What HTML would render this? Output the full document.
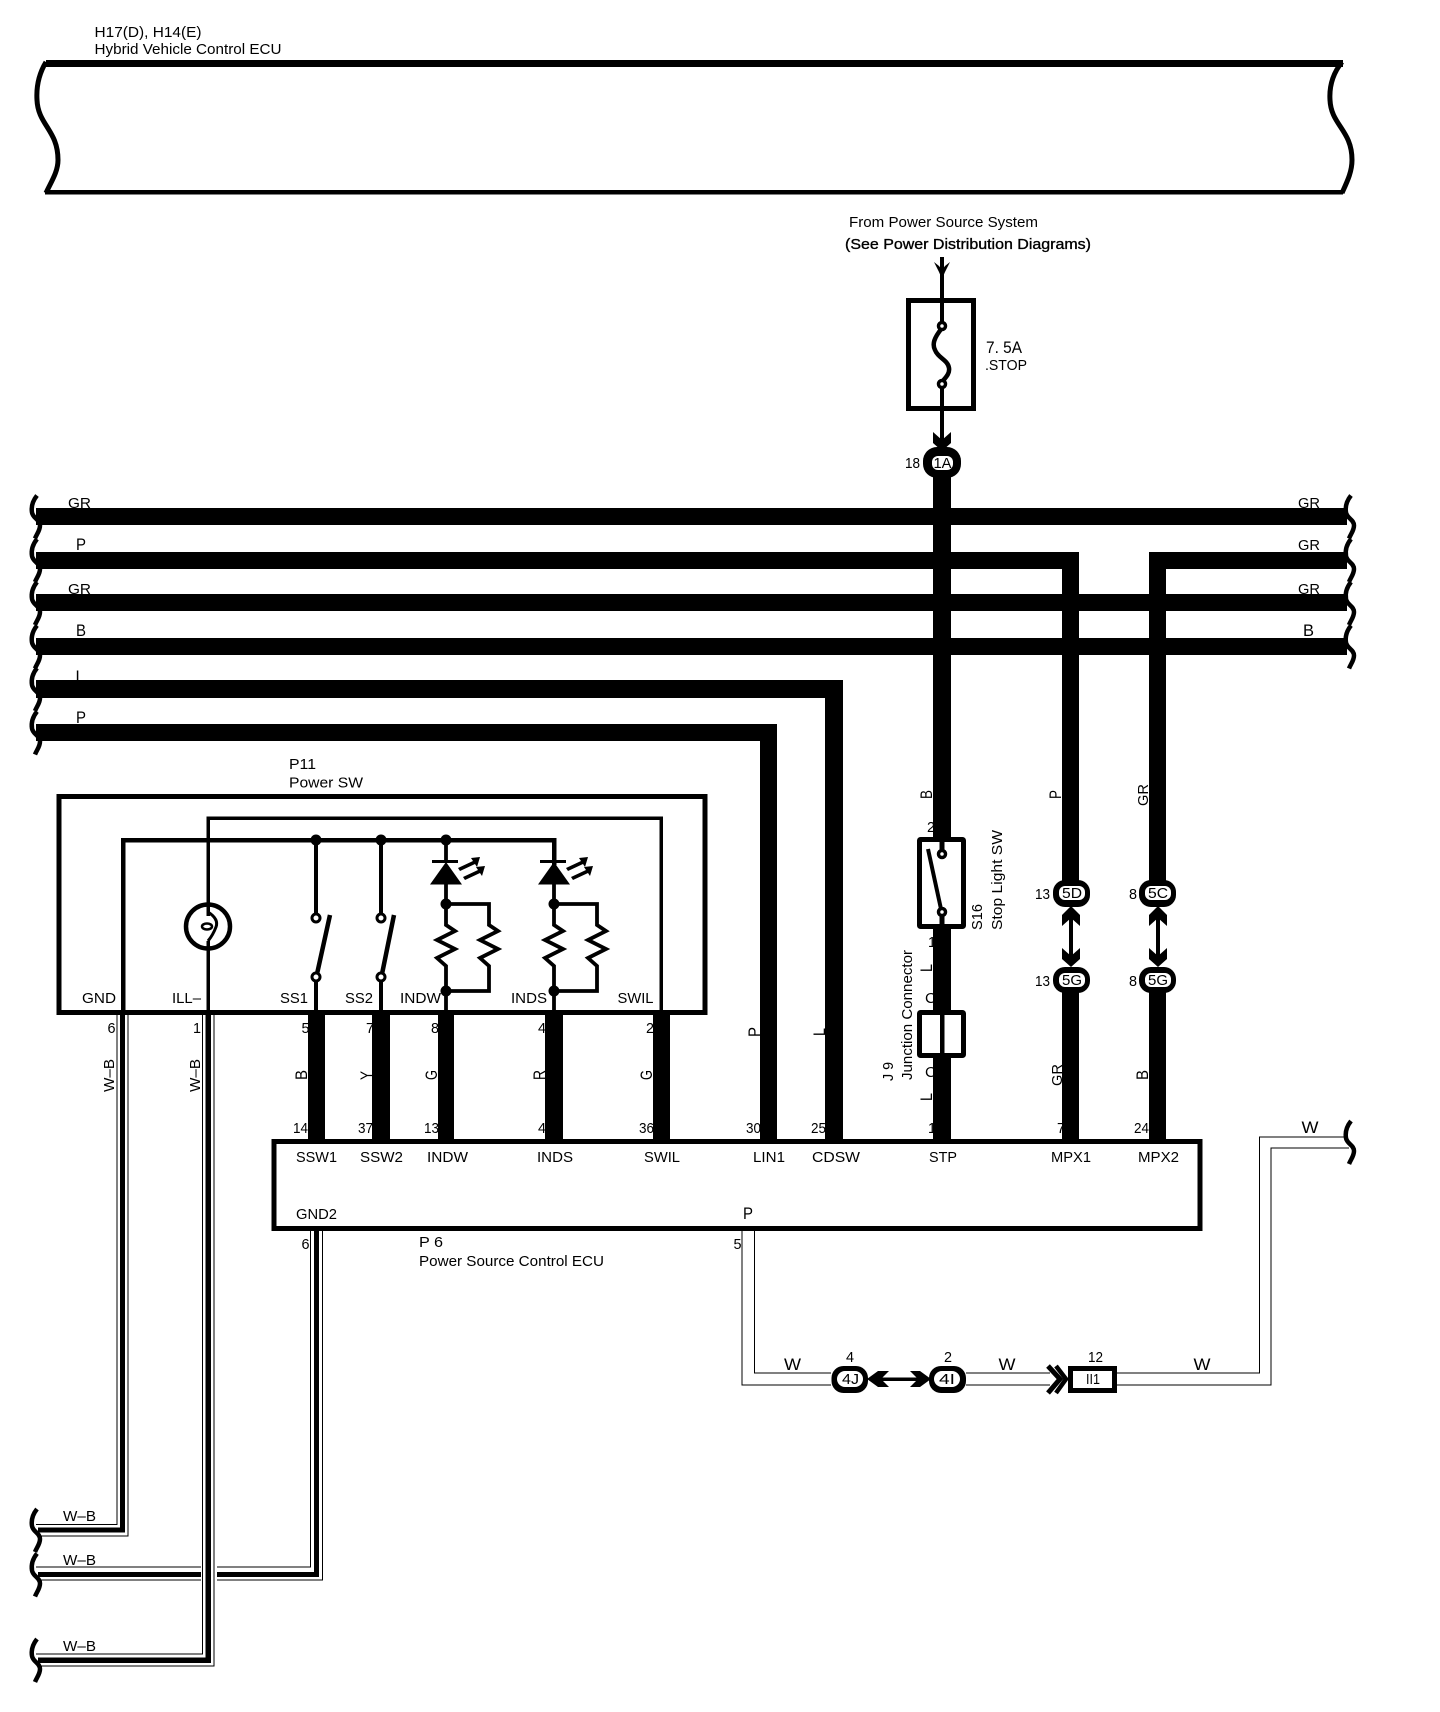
<!DOCTYPE html>
<html><head><meta charset="utf-8"><style>
html,body{margin:0;padding:0;background:#fff}
svg{display:block}
text{font-family:"Liberation Sans",sans-serif;font-size:15px;fill:#000}
text.b{font-size:17px}
.w{fill:none;stroke:#000;shape-rendering:crispEdges;stroke-linejoin:miter}
.t{stroke:#000;stroke-width:1.3;fill:none;shape-rendering:crispEdges}
.k{fill:#000}
</style></head><body>
<svg xmlns="http://www.w3.org/2000/svg" width="1440" height="1712" viewBox="0 0 1440 1712">
<rect width="1440" height="1712" fill="#fff"/>

<!-- labels under wires -->
<text x="94.5" y="37" textLength="107" lengthAdjust="spacingAndGlyphs">H17(D), H14(E)</text>
<text x="94.5" y="54" textLength="187" lengthAdjust="spacingAndGlyphs">Hybrid Vehicle Control ECU</text>
<text x="849" y="227" textLength="189" lengthAdjust="spacingAndGlyphs">From Power Source System</text>
<text x="845" y="249" textLength="246" lengthAdjust="spacingAndGlyphs" style="stroke:#000;stroke-width:.35">(See Power Distribution Diagrams)</text>
<text class="b" x="986" y="353" textLength="36" lengthAdjust="spacingAndGlyphs">7. 5A</text>
<text x="985" y="370" textLength="42" lengthAdjust="spacingAndGlyphs">.STOP</text>
<text x="905" y="468" textLength="15" lengthAdjust="spacingAndGlyphs">18</text>

<text x="68" y="508" textLength="23" lengthAdjust="spacingAndGlyphs">GR</text>
<text class="b" x="76" y="550" textLength="10" lengthAdjust="spacingAndGlyphs">P</text>
<text x="68" y="594" textLength="23" lengthAdjust="spacingAndGlyphs">GR</text>
<text class="b" x="76" y="636" textLength="10" lengthAdjust="spacingAndGlyphs">B</text>
<text class="b" x="75.5" y="682" textLength="9" lengthAdjust="spacingAndGlyphs">L</text>
<text class="b" x="76" y="723" textLength="10" lengthAdjust="spacingAndGlyphs">P</text>
<text x="1298" y="508" textLength="22" lengthAdjust="spacingAndGlyphs">GR</text>
<text x="1298" y="550" textLength="22" lengthAdjust="spacingAndGlyphs">GR</text>
<text x="1298" y="594" textLength="22" lengthAdjust="spacingAndGlyphs">GR</text>
<text class="b" x="1303" y="636" textLength="11" lengthAdjust="spacingAndGlyphs">B</text>

<text x="289" y="769" textLength="27" lengthAdjust="spacingAndGlyphs">P11</text>
<text x="289" y="787.5" textLength="74" lengthAdjust="spacingAndGlyphs">Power SW</text>

<text x="82" y="1003" textLength="34" lengthAdjust="spacingAndGlyphs">GND</text>
<text x="172" y="1003" textLength="29" lengthAdjust="spacingAndGlyphs">ILL–</text>
<text x="280" y="1003" textLength="28" lengthAdjust="spacingAndGlyphs">SS1</text>
<text x="345" y="1003" textLength="28" lengthAdjust="spacingAndGlyphs">SS2</text>
<text x="400" y="1003" textLength="41" lengthAdjust="spacingAndGlyphs">INDW</text>
<text x="511" y="1003" textLength="36" lengthAdjust="spacingAndGlyphs">INDS</text>
<text x="617.5" y="1003" textLength="36" lengthAdjust="spacingAndGlyphs">SWIL</text>

<text x="107.5" y="1033" textLength="8" lengthAdjust="spacingAndGlyphs">6</text>
<text x="193" y="1033" textLength="8" lengthAdjust="spacingAndGlyphs">1</text>
<text x="301.5" y="1033" textLength="8" lengthAdjust="spacingAndGlyphs">5</text>
<text x="366" y="1033" textLength="8" lengthAdjust="spacingAndGlyphs">7</text>
<text x="431" y="1033" textLength="8" lengthAdjust="spacingAndGlyphs">8</text>
<text x="538" y="1033" textLength="8" lengthAdjust="spacingAndGlyphs">4</text>
<text x="646" y="1033" textLength="8" lengthAdjust="spacingAndGlyphs">2</text>

<text x="293" y="1133" textLength="15" lengthAdjust="spacingAndGlyphs">14</text>
<text x="358" y="1133" textLength="15" lengthAdjust="spacingAndGlyphs">37</text>
<text x="424" y="1133" textLength="15" lengthAdjust="spacingAndGlyphs">13</text>
<text x="538" y="1133" textLength="8" lengthAdjust="spacingAndGlyphs">4</text>
<text x="639" y="1133" textLength="15" lengthAdjust="spacingAndGlyphs">36</text>
<text x="746" y="1133" textLength="15" lengthAdjust="spacingAndGlyphs">30</text>
<text x="811" y="1133" textLength="15" lengthAdjust="spacingAndGlyphs">25</text>
<text x="928" y="1133" textLength="8" lengthAdjust="spacingAndGlyphs">1</text>
<text x="1057" y="1133" textLength="8" lengthAdjust="spacingAndGlyphs">7</text>
<text x="1134" y="1133" textLength="15" lengthAdjust="spacingAndGlyphs">24</text>

<text x="296" y="1162" textLength="41" lengthAdjust="spacingAndGlyphs">SSW1</text>
<text x="360" y="1162" textLength="43" lengthAdjust="spacingAndGlyphs">SSW2</text>
<text x="427" y="1162" textLength="41" lengthAdjust="spacingAndGlyphs">INDW</text>
<text x="537" y="1162" textLength="36" lengthAdjust="spacingAndGlyphs">INDS</text>
<text x="644" y="1162" textLength="36" lengthAdjust="spacingAndGlyphs">SWIL</text>
<text x="753" y="1162" textLength="32" lengthAdjust="spacingAndGlyphs">LIN1</text>
<text x="812" y="1162" textLength="48" lengthAdjust="spacingAndGlyphs">CDSW</text>
<text x="929" y="1162" textLength="28" lengthAdjust="spacingAndGlyphs">STP</text>
<text x="1051" y="1162" textLength="40" lengthAdjust="spacingAndGlyphs">MPX1</text>
<text x="1138" y="1162" textLength="41" lengthAdjust="spacingAndGlyphs">MPX2</text>
<text x="296" y="1219" textLength="41" lengthAdjust="spacingAndGlyphs">GND2</text>
<text class="b" x="743" y="1219" textLength="10" lengthAdjust="spacingAndGlyphs">P</text>
<text x="301.5" y="1249" textLength="8" lengthAdjust="spacingAndGlyphs">6</text>
<text x="733.5" y="1249" textLength="8" lengthAdjust="spacingAndGlyphs">5</text>
<text x="419" y="1247" textLength="24" lengthAdjust="spacingAndGlyphs">P 6</text>
<text x="419" y="1266" textLength="185" lengthAdjust="spacingAndGlyphs">Power Source Control ECU</text>

<text class="b" x="784" y="1370" textLength="17" lengthAdjust="spacingAndGlyphs">W</text>
<text class="b" x="998.5" y="1370" textLength="17" lengthAdjust="spacingAndGlyphs">W</text>
<text class="b" x="1193.5" y="1370" textLength="17" lengthAdjust="spacingAndGlyphs">W</text>
<text class="b" x="1301.5" y="1133" textLength="17" lengthAdjust="spacingAndGlyphs">W</text>
<text x="846" y="1362" textLength="8" lengthAdjust="spacingAndGlyphs">4</text>
<text x="944" y="1362" textLength="8" lengthAdjust="spacingAndGlyphs">2</text>
<text x="1088" y="1362" textLength="15" lengthAdjust="spacingAndGlyphs">12</text>

<text x="63" y="1521" textLength="33" lengthAdjust="spacingAndGlyphs">W–B</text>
<text x="63" y="1565" textLength="33" lengthAdjust="spacingAndGlyphs">W–B</text>
<text x="63" y="1651" textLength="33" lengthAdjust="spacingAndGlyphs">W–B</text>

<text x="927" y="832" textLength="8" lengthAdjust="spacingAndGlyphs">2</text>
<text x="928" y="947" textLength="8" lengthAdjust="spacingAndGlyphs">1</text>
<text x="925" y="1003" textLength="11" lengthAdjust="spacingAndGlyphs">C</text>
<text x="925" y="1077" textLength="11" lengthAdjust="spacingAndGlyphs">C</text>
<text x="1035" y="899" textLength="15" lengthAdjust="spacingAndGlyphs">13</text>
<text x="1035" y="986" textLength="15" lengthAdjust="spacingAndGlyphs">13</text>
<text x="1129" y="899" textLength="8" lengthAdjust="spacingAndGlyphs">8</text>
<text x="1129" y="986" textLength="8" lengthAdjust="spacingAndGlyphs">8</text>

<!-- rotated labels -->
<text class="b" transform="rotate(-90 932 799)" x="932" y="799" textLength="9" lengthAdjust="spacingAndGlyphs">B</text>
<text class="b" transform="rotate(-90 932 972)" x="932" y="972" textLength="8" lengthAdjust="spacingAndGlyphs">L</text>
<text class="b" transform="rotate(-90 932 1101)" x="932" y="1101" textLength="8" lengthAdjust="spacingAndGlyphs">L</text>
<text transform="rotate(-90 912 1080)" x="912" y="1080" textLength="130" lengthAdjust="spacingAndGlyphs">Junction Connector</text>
<text transform="rotate(-90 893 1081)" x="893" y="1081" textLength="19" lengthAdjust="spacingAndGlyphs">J 9</text>
<text transform="rotate(-90 982 930)" x="982" y="930" textLength="26" lengthAdjust="spacingAndGlyphs">S16</text>
<text transform="rotate(-90 1002 930)" x="1002" y="930" textLength="100" lengthAdjust="spacingAndGlyphs">Stop Light SW</text>
<text class="b" transform="rotate(-90 1061 799)" x="1061" y="799" textLength="9" lengthAdjust="spacingAndGlyphs">P</text>
<text transform="rotate(-90 1148 806)" x="1148" y="806" textLength="22" lengthAdjust="spacingAndGlyphs">GR</text>
<text class="b" transform="rotate(-90 760 1037)" x="760" y="1037" textLength="10" lengthAdjust="spacingAndGlyphs">P</text>
<text class="b" transform="rotate(-90 825 1036)" x="825" y="1036" textLength="8" lengthAdjust="spacingAndGlyphs">L</text>
<text transform="rotate(-90 1062 1086)" x="1062" y="1086" textLength="22" lengthAdjust="spacingAndGlyphs">GR</text>
<text class="b" transform="rotate(-90 1148 1080)" x="1148" y="1080" textLength="10" lengthAdjust="spacingAndGlyphs">B</text>
<text transform="rotate(-90 114 1092)" x="114" y="1092" textLength="33" lengthAdjust="spacingAndGlyphs">W–B</text>
<text transform="rotate(-90 200 1092)" x="200" y="1092" textLength="33" lengthAdjust="spacingAndGlyphs">W–B</text>
<text class="b" transform="rotate(-90 307 1080)" x="307" y="1080" textLength="10" lengthAdjust="spacingAndGlyphs">B</text>
<text class="b" transform="rotate(-90 372 1080)" x="372" y="1080" textLength="9" lengthAdjust="spacingAndGlyphs">Y</text>
<text class="b" transform="rotate(-90 437 1080)" x="437" y="1080" textLength="10" lengthAdjust="spacingAndGlyphs">G</text>
<text class="b" transform="rotate(-90 545 1080)" x="545" y="1080" textLength="10" lengthAdjust="spacingAndGlyphs">R</text>
<text class="b" transform="rotate(-90 652 1080)" x="652" y="1080" textLength="10" lengthAdjust="spacingAndGlyphs">G</text>

<!-- top ECU band -->
<rect x="46" y="60" width="1297" height="7" class="k"/>
<rect x="45" y="190" width="1298" height="4.5" class="k"/>
<path d="M46 62 C40 72 36 84 37 100 C38 125 58 130 58 160 C58 172 51 182 46 193" fill="none" stroke="#000" stroke-width="5"/>
<path d="M1342 62 C1334 72 1329 84 1330 100 C1331 125 1352 130 1352 160 C1352 172 1347 182 1342 193" fill="none" stroke="#000" stroke-width="5"/>

<!-- squiggles -->
<g fill="none" stroke="#000" stroke-width="4.5">
<path transform="translate(0,516.5)" d="M37 -21 C33 -16 31 -10 32 -4 C33 2 40 3 40 9 C40 14 37 17 35 22"/>
<path transform="translate(0,560)" d="M37 -21 C33 -16 31 -10 32 -4 C33 2 40 3 40 9 C40 14 37 17 35 22"/>
<path transform="translate(0,603)" d="M37 -21 C33 -16 31 -10 32 -4 C33 2 40 3 40 9 C40 14 37 17 35 22"/>
<path transform="translate(0,646.5)" d="M37 -21 C33 -16 31 -10 32 -4 C33 2 40 3 40 9 C40 14 37 17 35 22"/>
<path transform="translate(0,689)" d="M37 -21 C33 -16 31 -10 32 -4 C33 2 40 3 40 9 C40 14 37 17 35 22"/>
<path transform="translate(0,732.5)" d="M37 -21 C33 -16 31 -10 32 -4 C33 2 40 3 40 9 C40 14 37 17 35 22"/>
<path transform="translate(1314,516.5)" d="M37 -21 C33 -16 31 -10 32 -4 C33 2 40 3 40 9 C40 14 37 17 35 22"/>
<path transform="translate(1314,560)" d="M37 -21 C33 -16 31 -10 32 -4 C33 2 40 3 40 9 C40 14 37 17 35 22"/>
<path transform="translate(1314,603)" d="M37 -21 C33 -16 31 -10 32 -4 C33 2 40 3 40 9 C40 14 37 17 35 22"/>
<path transform="translate(1314,646.5)" d="M37 -21 C33 -16 31 -10 32 -4 C33 2 40 3 40 9 C40 14 37 17 35 22"/>
<path transform="translate(1314,1142)" d="M37 -21 C33 -16 31 -10 32 -4 C33 2 40 3 40 9 C40 14 37 17 35 22"/>
<path transform="translate(0,1530)" d="M37 -21 C33 -16 31 -10 32 -4 C33 2 40 3 40 9 C40 14 37 17 35 22"/>
<path transform="translate(0,1574.5)" d="M37 -21 C33 -16 31 -10 32 -4 C33 2 40 3 40 9 C40 14 37 17 35 22"/>
<path transform="translate(0,1660)" d="M37 -21 C33 -16 31 -10 32 -4 C33 2 40 3 40 9 C40 14 37 17 35 22"/>
</g>

<!-- thick buses -->
<g class="k" shape-rendering="crispEdges">
<rect x="36" y="508" width="1311" height="17"/>
<rect x="36" y="552" width="1043" height="17"/>
<rect x="1149" y="552" width="198" height="17"/>
<rect x="36" y="594" width="1311" height="17"/>
<rect x="36" y="638" width="1311" height="17"/>
<rect x="36" y="680" width="807" height="18"/>
<rect x="36" y="724" width="741" height="17"/>

<rect x="933" y="475" width="18" height="362"/>
<rect x="933" y="929" width="18" height="81"/>
<rect x="933" y="1058" width="18" height="84"/>
<rect x="1062" y="552" width="17" height="330"/>
<rect x="1062" y="992" width="17" height="150"/>
<rect x="1149" y="552" width="17" height="330"/>
<rect x="1149" y="992" width="17" height="150"/>
<rect x="825" y="680" width="18" height="462"/>
<rect x="760" y="724" width="17" height="418"/>

<rect x="308" y="1012" width="17" height="130"/>
<rect x="372" y="1012" width="18" height="130"/>
<rect x="438" y="1012" width="16" height="130"/>
<rect x="545" y="1012" width="18" height="130"/>
<rect x="653" y="1012" width="17" height="130"/>
</g>

<!-- ground triple wires -->
<g shape-rendering="crispEdges">
<path class="t" d="M117 1015 V1524.5 H36"/>
<path class="w" stroke-width="5" d="M122.5 1015 V1530 H38"/>
<path class="t" d="M128 1015 V1536 H40"/>

<path class="t" d="M202.5 1015 V1654 H36"/>
<path class="w" stroke-width="5.5" d="M208 1015 V1660 H38"/>
<path class="t" d="M214 1015 V1666 H40"/>

<path class="t" d="M310.5 1231 V1567 H217 M201 1567 H36"/>
<path class="w" stroke-width="5" d="M316.5 1231 V1574.5 H217"/>
<path class="w" stroke-width="5" d="M201 1574.5 H38"/>
<path class="t" d="M322.5 1231 V1580 H217 M201 1580 H40"/>

<!-- W wire -->
<path class="t" d="M742 1231 V1385 H831 M966 1385 H1050 M1117 1385 H1271 V1148 H1349"/>
<path class="t" d="M754.5 1231 V1373 H831 M966 1373 H1050 M1117 1373 H1259.5 V1137 H1346"/>
</g>

<!-- Power SW box -->
<rect x="59" y="796.5" width="646" height="216" fill="none" stroke="#000" stroke-width="5"/>
<!-- ECU box -->
<rect x="274" y="1141.5" width="926" height="87" fill="none" stroke="#000" stroke-width="5"/>

<!-- inside SW -->
<path class="w" stroke-width="3.5" d="M661 1012 V818 H208 V916"/>
<path class="w" stroke-width="3.5" d="M208 941 V1012"/>
<path class="w" stroke-width="4.5" d="M123 1012 V840 H554 V865"/>
<g class="k">
<circle cx="316" cy="840" r="5.5"/><circle cx="381" cy="840" r="5.5"/><circle cx="446" cy="840" r="5.5"/>
</g>
<!-- lamp -->
<circle cx="208" cy="926.5" r="22" fill="none" stroke="#000" stroke-width="4.5"/>
<path d="M208 912 Q219 919 216 927 Q213 935 208 941" fill="none" stroke="#000" stroke-width="3"/>
<ellipse cx="207" cy="926.5" rx="5" ry="3" fill="#fff" stroke="#000" stroke-width="2.5"/>
<!-- switches -->
<path class="w" stroke-width="4" d="M316 840 V914 M381 840 V914 M316 980 V1012 M381 980 V1012"/>
<circle cx="316" cy="918" r="4" fill="#fff" stroke="#000" stroke-width="3"/>
<circle cx="381" cy="918" r="4" fill="#fff" stroke="#000" stroke-width="3"/>
<circle cx="316" cy="977" r="4" fill="#fff" stroke="#000" stroke-width="3"/>
<circle cx="381" cy="977" r="4" fill="#fff" stroke="#000" stroke-width="3"/>
<path d="M317 974 L330 915 M382 974 L394 915" fill="none" stroke="#000" stroke-width="4.5"/>

<!-- LEDs + resistors -->
<g fill="none" stroke="#000" stroke-width="3.8">
<path d="M446 840 V861 M446 884 V925 L455 931 L437 940 L455 949 L437 958 L446 966 V1012" />
<path d="M446 904 H489 V925 L498 931 L480 940 L498 949 L480 958 L489 966 V991 H446"/>
<path d="M554 884 V925 L563 931 L545 940 L563 949 L545 958 L554 966 V1012" />
<path d="M554 904 H597 V925 L606 931 L588 940 L606 949 L588 958 L597 966 V991 H554"/>
</g>
<g class="k">
<rect x="432" y="860" width="26" height="3"/>
<polygon points="446,862 462,884.5 430,884.5"/>
<rect x="540" y="860" width="26" height="3"/>
<polygon points="554,862 570,884.5 538,884.5"/>
<circle cx="446" cy="904" r="5.5"/><circle cx="446" cy="991" r="5.5"/>
<circle cx="554" cy="904" r="5.5"/><circle cx="554" cy="991" r="5.5"/>
<polygon points="480,857 471,858 473,861 458,868 460,871 475,864 477,867"/>
<polygon points="485,866 476,867 478,870 463,877 465,880 480,873 482,876"/>
<polygon points="588,857 579,858 581,861 566,868 568,871 583,864 585,867"/>
<polygon points="593,866 584,867 586,870 571,877 573,880 588,873 590,876"/>
</g>

<!-- fuse -->
<path class="w" stroke-width="4" d="M942 257 V322 M942 388 V440"/>
<polygon class="k" points="934,262 939,266 942,270 945,266 950,262 945,272 942,279 939,272"/>
<rect x="908.5" y="300.5" width="65" height="108" fill="none" stroke="#000" stroke-width="5"/>
<path d="M942 328 C934 338 932 344 935 350 C938 358 948 360 949 368 C950 374 945 378 942 382" fill="none" stroke="#000" stroke-width="4.5"/>
<circle cx="942" cy="326" r="3.5" fill="#fff" stroke="#000" stroke-width="3.5"/>
<circle cx="942" cy="384" r="3.5" fill="#fff" stroke="#000" stroke-width="3.5"/>
<polygon class="k" points="933,432 942,440 951,432 951,443 942,451 933,443"/>

<!-- S16 -->
<rect x="919.5" y="839.5" width="44" height="87" rx="1" fill="#fff" stroke="#000" stroke-width="5"/>
<path class="w" stroke-width="5" d="M942 837 V850 M942 915 V929"/>
<circle cx="942" cy="854" r="3.5" fill="#fff" stroke="#000" stroke-width="3.5"/>
<circle cx="942" cy="912" r="3.5" fill="#fff" stroke="#000" stroke-width="3.5"/>
<path d="M928 849 L941 909" fill="none" stroke="#000" stroke-width="4"/>

<!-- J9 -->
<rect x="919.5" y="1012.5" width="44" height="43" rx="1" fill="#fff" stroke="#000" stroke-width="5"/>
<rect x="940" y="1010" width="4.5" height="48" class="k"/>

<!-- 5D/5C arrows -->
<path class="w" stroke-width="4" d="M1071 915 V958 M1158 915 V958"/>
<g class="k">
<polygon points="1062,926 1062,915 1071,906 1080,915 1080,926 1071,918"/>
<polygon points="1062,948 1071,956 1080,948 1080,959 1071,967 1062,959"/>
<polygon points="1149,926 1149,915 1158,906 1167,915 1167,926 1158,918"/>
<polygon points="1149,948 1158,956 1167,948 1167,959 1158,967 1149,959"/>
</g>

<!-- round connectors -->
<g class="k">
<rect x="923" y="447" width="38" height="31" rx="14"/>
<rect x="1053" y="880" width="37" height="27" rx="12"/>
<rect x="1139" y="880" width="37" height="27" rx="12"/>
<rect x="1053" y="967" width="37" height="26" rx="12"/>
<rect x="1139" y="967" width="37" height="26" rx="12"/>
<rect x="831.5" y="1366" width="36.5" height="27" rx="12"/>
<rect x="929" y="1366" width="37" height="27" rx="12"/>
</g>
<g fill="#fff">
<rect x="932" y="456" width="21" height="14" rx="6"/>
<rect x="1059" y="886" width="26" height="14" rx="6"/>
<rect x="1145" y="886" width="26" height="14" rx="6"/>
<rect x="1059" y="973" width="26" height="14" rx="6"/>
<rect x="1145" y="973" width="26" height="14" rx="6"/>
<rect x="837" y="1371" width="26" height="16" rx="8"/>
<rect x="934" y="1371" width="26" height="16" rx="8"/>
</g>
<text x="933.5" y="468" textLength="18" lengthAdjust="spacingAndGlyphs">1A</text>
<text x="1062" y="898" textLength="20" lengthAdjust="spacingAndGlyphs">5D</text>
<text x="1148" y="898" textLength="20" lengthAdjust="spacingAndGlyphs">5C</text>
<text x="1062" y="985" textLength="20" lengthAdjust="spacingAndGlyphs">5G</text>
<text x="1148" y="985" textLength="20" lengthAdjust="spacingAndGlyphs">5G</text>
<text x="842" y="1384" textLength="17" lengthAdjust="spacingAndGlyphs">4J</text>
<text x="939" y="1384" textLength="16" lengthAdjust="spacingAndGlyphs">4I</text>

<!-- horizontal arrows -->
<path class="w" stroke-width="3.5" d="M880 1379 H918"/>
<g class="k">
<polygon points="867,1379 878,1371 889,1371 881,1379 889,1387 878,1387"/>
<polygon points="910,1371 920,1371 931,1379 920,1387 910,1387 918,1379"/>
</g>
<path d="M1048 1366 L1060 1379 L1048 1393" fill="none" stroke="#000" stroke-width="5"/>
<path d="M1056 1366 L1066 1379 L1056 1393" fill="none" stroke="#000" stroke-width="4.5"/>

<!-- II1 -->
<rect x="1070.5" y="1368.5" width="44" height="22" fill="#fff" stroke="#000" stroke-width="5"/>
<text x="1086" y="1384" textLength="14" lengthAdjust="spacingAndGlyphs">II1</text>
</svg>
</body></html>
